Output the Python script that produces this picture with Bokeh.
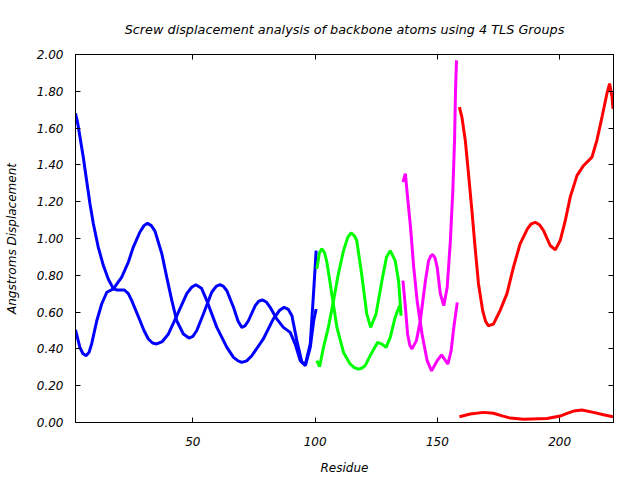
from bokeh.plotting import figure
from bokeh.models import LinearAxis, Range1d, FixedTicker, NumeralTickFormatter, CustomJSTickFormatter
from bokeh.embed import file_html
from bokeh.resources import INLINE

# ---- data (residue, displacement) ----
blue_a_res = [2, 3, 5.2, 6.6, 7.9, 9.3, 11.3, 13.4, 15.4, 17.5, 19, 22, 23.6, 25, 28.4, 30, 31.8, 33.5, 35.2, 37.5, 40, 43.4, 47.5,
              49.5, 51.2, 53.5, 55.7, 59.8, 63.9, 66.6, 68.5, 70, 72, 74.1, 78.8, 82.9, 85.5, 87.3, 89, 90.5, 92.5, 94.6, 96,
              98, 99.4, 100.4]
blue_a_val = [1.68, 1.62, 1.44, 1.31, 1.19, 1.08, 0.953, 0.853, 0.78, 0.726, 0.72, 0.72, 0.70, 0.662, 0.553, 0.50, 0.454, 0.432, 0.427,
              0.44, 0.481, 0.58, 0.70, 0.735, 0.749, 0.73, 0.662, 0.517, 0.408, 0.354, 0.335, 0.327, 0.335, 0.363, 0.454, 0.563,
              0.61, 0.626, 0.615, 0.58, 0.445, 0.327, 0.318, 0.427, 0.716, 0.934]

blue_b_res = [2, 3.8, 5, 6.3, 7.5, 8.6, 10.7, 12.7, 14.8, 17.5, 20.9, 23.6, 25.6, 28.3, 30, 31.4, 33, 34.5, 37.3, 39.3, 41.4, 43.4,
              46.1, 48.4, 50, 51.6, 54.3, 57.7, 59.5, 61.1, 62.5, 63.9, 66.6, 68.5, 70, 71.3, 72.7, 75.5, 77, 78.4, 80, 81.6, 84.3,
              87, 89.8, 91.8, 93.9, 96, 98, 99.4, 100.4]
blue_b_val = [0.503, 0.408, 0.375, 0.363, 0.38, 0.427, 0.553, 0.644, 0.708, 0.726, 0.79, 0.871, 0.952, 1.034, 1.07, 1.083, 1.07, 1.04,
              0.917, 0.79, 0.662, 0.553, 0.481, 0.459, 0.468, 0.50, 0.59, 0.708, 0.74, 0.749, 0.74, 0.716, 0.626, 0.55, 0.517, 0.525,
              0.553, 0.635, 0.66, 0.666, 0.655, 0.626, 0.563, 0.517, 0.49, 0.427, 0.336, 0.309, 0.408, 0.553, 0.617]

green_a_res = [100.7, 101.7, 102.7, 103.8, 104.8, 106.8, 108.9, 111.6, 114.3, 116, 117.7, 119, 120.4, 123.2, 125.5, 127.3, 129,
               130.7, 132.7, 134.5, 135.1]
green_a_val = [0.835, 0.92, 0.944, 0.925, 0.871, 0.699, 0.517, 0.381, 0.318, 0.298, 0.29, 0.295, 0.308, 0.381, 0.435, 0.426, 0.408,
               0.463, 0.571, 0.635, 0.60]

green_b_res = [100.7, 101.8, 103.4, 105.4, 107.5, 109.5, 111.6, 113.3, 114.7, 116, 117, 119, 121.1, 122.7, 124.9, 127.3, 129.2,
               130.7, 132.7, 134.1, 134.8, 135.1]
green_b_val = [0.336, 0.303, 0.408, 0.517, 0.662, 0.808, 0.934, 1.005, 1.031, 1.015, 0.989, 0.808, 0.59, 0.517, 0.59, 0.771, 0.9,
               0.934, 0.88, 0.771, 0.644, 0.58]

magenta_a_res = [135.9, 136.9, 137.6, 139, 140.3, 141.7, 143.7, 145.8, 147.6, 149.9, 151.7, 153.3, 154.3, 155.6, 156.7, 158.1]
magenta_a_val = [1.306, 1.352, 1.25, 1.061, 0.844, 0.662, 0.481, 0.336, 0.281, 0.336, 0.368, 0.336, 0.318, 0.39, 0.517, 0.653]

magenta_b_res = [135.9, 136.9, 137.8, 138.7, 139.6, 141.4, 143, 145.1, 146.4, 147.3, 148.1, 149, 149.9, 151.2, 152.6, 154, 155.3,
                 156.3, 157, 157.4, 157.8]
magenta_b_val = [0.771, 0.626, 0.481, 0.42, 0.40, 0.445, 0.553, 0.771, 0.88, 0.905, 0.913, 0.895, 0.844, 0.699, 0.635, 0.735, 0.989,
                 1.261, 1.533, 1.805, 1.968]

red_a_res = [159, 160, 161.4, 162.7, 164.1, 165.4, 166.8, 168.5, 169.7, 170.8, 172.9, 175.6, 178.4, 181.1, 183.8, 186.8, 188.4,
             190, 191.7, 193.4, 196.1, 198.2, 200.2, 202.3, 204.3, 207.1, 209.8, 213.2, 215.2, 217.3, 219.3, 220.4, 221.4, 221.8]
red_a_val = [1.714, 1.66, 1.533, 1.352, 1.152, 0.952, 0.753, 0.608, 0.55, 0.526, 0.535, 0.608, 0.699, 0.844, 0.971, 1.052, 1.08,
             1.088, 1.075, 1.043, 0.962, 0.938, 0.989, 1.098, 1.225, 1.343, 1.397, 1.442, 1.533, 1.66, 1.787, 1.842, 1.77, 1.705]

red_b_res = [159, 163.4, 168.8, 172.9, 176.5, 179.8, 185.2, 194.8, 200.2, 203, 205.7, 209.1, 213.8, 217.9, 221.8]
red_b_val = [0.031, 0.046, 0.055, 0.05, 0.036, 0.024, 0.018, 0.022, 0.035, 0.05, 0.062, 0.068, 0.055, 0.042, 0.031]

x_ticks = [50, 100, 150, 200]
y_ticks = [0.0, 0.2, 0.4, 0.6, 0.8, 1.0, 1.2, 1.4, 1.6, 1.8, 2.0]

TITLE = "Screw displacement analysis of backbone atoms using 4 TLS Groups"
FONT = "DejaVu Sans"

p = figure(width=640, height=480, output_backend="svg", toolbar_location=None,
           x_range=Range1d(2, 222), y_range=Range1d(0, 2.0),
           title=TITLE, x_axis_label="Residue", y_axis_label="Angstroms Displacement",
           min_border_left=75, min_border_right=27, min_border_top=54, min_border_bottom=58)

p.title.align = "center"
p.title.text_font = FONT
p.title.text_font_style = "italic"
p.title.text_font_size = "12.8px"
p.title.text_color = "black"
p.title.standoff = 36

p.grid.visible = False
p.outline_line_color = "black"
p.outline_line_width = 1
p.outline_line_alpha = 1

for ax in (p.xaxis[0], p.yaxis[0]):
    ax.major_tick_in = 5
    ax.major_tick_out = 0
    ax.minor_tick_in = 0
    ax.minor_tick_out = 0
    ax.axis_line_color = "black"
    ax.major_tick_line_color = "black"
    ax.major_label_text_font = FONT
    ax.major_label_text_font_style = "italic"
    ax.major_label_text_font_size = "12px"
    ax.major_label_text_color = "black"
    ax.axis_label_text_font = FONT
    ax.axis_label_text_font_style = "italic"
    ax.axis_label_text_font_size = "12px"
    ax.axis_label_text_color = "black"

p.xaxis[0].ticker = FixedTicker(ticks=x_ticks)
p.yaxis[0].ticker = FixedTicker(ticks=y_ticks)
p.yaxis[0].formatter = NumeralTickFormatter(format="0.00")
p.xaxis[0].major_label_standoff = 14
p.xaxis[0].axis_label_standoff = 12
p.yaxis[0].major_label_standoff = 12
p.yaxis[0].axis_label_standoff = 15

# mirror ticks on top and right (no labels)
blank = CustomJSTickFormatter(code="return ''")
top = LinearAxis(ticker=FixedTicker(ticks=x_ticks), major_tick_in=5, major_tick_out=0,
                 minor_tick_in=0, minor_tick_out=0, formatter=blank, major_label_standoff=0)
right = LinearAxis(ticker=FixedTicker(ticks=y_ticks), major_tick_in=5, major_tick_out=0,
                   minor_tick_in=0, minor_tick_out=0, formatter=blank, major_label_standoff=0)
p.add_layout(top, "above")
p.add_layout(right, "right")

LW = 3
p.line(blue_a_res, blue_a_val, line_color="#0000ff", line_width=LW)
p.line(blue_b_res, blue_b_val, line_color="#0000ff", line_width=LW)
p.line(green_a_res, green_a_val, line_color="#00ff00", line_width=LW)
p.line(green_b_res, green_b_val, line_color="#00ff00", line_width=LW)
p.line(magenta_a_res, magenta_a_val, line_color="#ff00ff", line_width=LW)
p.line(magenta_b_res, magenta_b_val, line_color="#ff00ff", line_width=LW)
p.line(red_a_res, red_a_val, line_color="#ff0000", line_width=LW)
p.line(red_b_res, red_b_val, line_color="#ff0000", line_width=LW)

open("out.html", "w").write(file_html(p, INLINE))
